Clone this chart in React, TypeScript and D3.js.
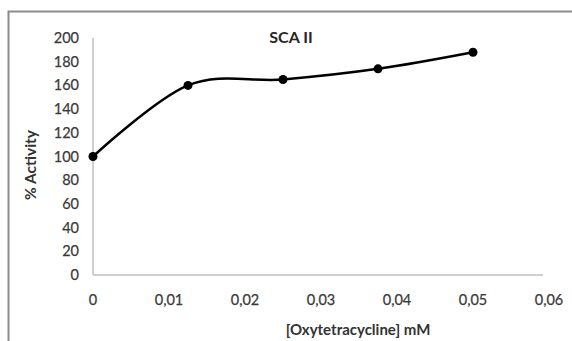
import React, { useEffect, useRef } from 'react';
import * as d3 from 'd3';

const concentrations = [0, 0.0125, 0.025, 0.0375, 0.05];
const activity = [100, 160, 165, 174, 188];
const xTicks = [0, 0.01, 0.02, 0.03, 0.04, 0.05, 0.06];
const yTicks = [0, 20, 40, 60, 80, 100, 120, 140, 160, 180, 200];
const title = 'SCA II';
const xTitle = '[Oxytetracycline] mM';
const yTitle = '% Activity';

const font = 'Lato, "Open Sans", sans-serif';

const App = () => {
    const ref = useRef<SVGSVGElement>(null);

    useEffect(() => {
        const width = 572;
        const height = 341;
        const svg = d3.select(ref.current);
        svg.selectAll('*').remove();

        // outer frame, cut off on the right and bottom like the picture
        svg.append('rect')
            .attr('x', 8.5).attr('y', 11.5)
            .attr('width', width).attr('height', height)
            .attr('fill', '#fff')
            .attr('stroke', '#8c8c8c')
            .attr('stroke-width', 2);

        const x = d3.scaleLinear().domain([0, 0.06]).range([93, 549]);
        const y = d3.scaleLinear().domain([0, 200]).range([275, 38]);

        // axis lines
        svg.append('line')
            .attr('x1', x(0)).attr('x2', x(0))
            .attr('y1', y(200)).attr('y2', y(0))
            .attr('stroke', '#bfbfbf').attr('stroke-width', 1.5);
        svg.append('line')
            .attr('x1', x(0)).attr('x2', x(0.06) - 6)
            .attr('y1', y(0)).attr('y2', y(0))
            .attr('stroke', '#bfbfbf').attr('stroke-width', 1.5);

        svg.append('g')
            .selectAll('text')
            .data(yTicks)
            .join('text')
            .attr('x', 79)
            .attr('y', d => y(d))
            .attr('dy', '0.35em')
            .attr('text-anchor', 'end')
            .attr('font-family', font)
            .attr('font-size', 14.5)
            .attr('fill', '#3a3a3a')
            .attr('stroke', '#3a3a3a')
            .attr('stroke-width', 0.25)
            .text(d => d);

        svg.append('g')
            .selectAll('text')
            .data(xTicks)
            .join('text')
            .attr('x', d => x(d))
            .attr('y', 300)
            .attr('dy', '0.35em')
            .attr('text-anchor', 'middle')
            .attr('font-family', font)
            .attr('font-size', 14.5)
            .attr('fill', '#3a3a3a')
            .attr('stroke', '#3a3a3a')
            .attr('stroke-width', 0.25)
            .text(d => (d === 0 ? '0' : String(d).replace('.', ',')));

        const points = concentrations.map((c, i) => [c, activity[i]] as [number, number]);

        const line = d3.line<[number, number]>()
            .x(d => x(d[0]))
            .y(d => y(d[1]))
            .curve(d3.curveCardinal.tension(0));

        svg.append('path')
            .datum(points)
            .attr('d', line)
            .attr('fill', 'none')
            .attr('stroke', '#000')
            .attr('stroke-width', 2.5);

        svg.append('g')
            .selectAll('circle')
            .data(points)
            .join('circle')
            .attr('cx', d => x(d[0]))
            .attr('cy', d => y(d[1]))
            .attr('r', 4.5)
            .attr('fill', '#000');

        svg.append('text')
            .attr('x', 291).attr('y', 37)
            .attr('dy', '0.35em')
            .attr('text-anchor', 'middle')
            .attr('font-family', font)
            .attr('font-weight', 'bold')
            .attr('font-size', 16)
            .attr('fill', '#262626')
            .text(title);

        svg.append('text')
            .attr('x', 358).attr('y', 330)
            .attr('dy', '0.35em')
            .attr('text-anchor', 'middle')
            .attr('font-family', font)
            .attr('font-weight', 'bold')
            .attr('font-size', 15)
            .attr('fill', '#333')
            .text(xTitle);

        svg.append('text')
            .attr('transform', 'translate(31,165) rotate(-90)')
            .attr('dy', '0.35em')
            .attr('text-anchor', 'middle')
            .attr('font-family', font)
            .attr('font-weight', 'bold')
            .attr('font-size', 15.5)
            .attr('fill', '#333')
            .text(yTitle);
    }, []);

    return (
        <svg
            ref={ref}
            width={572}
            height={341}
            style={{ position: 'absolute', left: 0, top: 0, background: '#fff' }}
        />
    );
};

export default App;
